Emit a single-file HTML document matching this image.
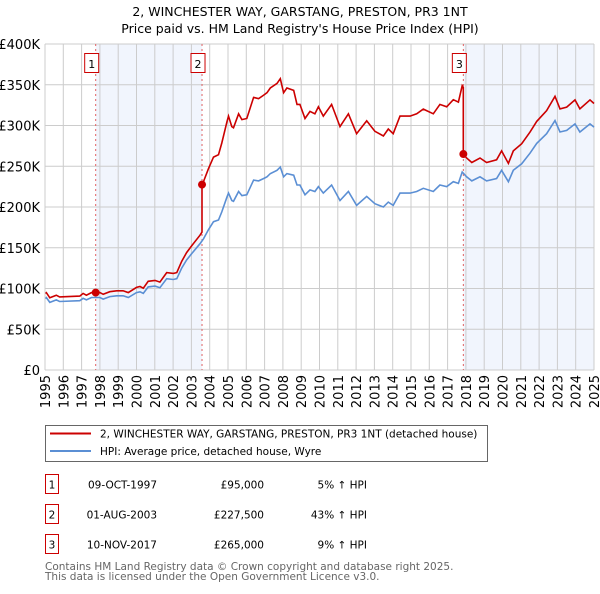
<!DOCTYPE html>
<html><head><meta charset="utf-8"><style>
body{margin:0;background:#fff;font-family:"DejaVu Sans","Liberation Sans",sans-serif;}
svg text{font-family:"DejaVu Sans","Liberation Sans",sans-serif;}
</style></head><body>
<svg id="chart" width="600" height="590" xmlns="http://www.w3.org/2000/svg">
<text x="300" y="16" text-anchor="middle" font-size="12.5">2, WINCHESTER WAY, GARSTANG, PRESTON, PR3 1NT</text>
<text x="300" y="33" text-anchor="middle" font-size="12.5">Price paid vs. HM Land Registry's House Price Index (HPI)</text>
<g id="plot"></g>
<g>
<rect x="45.5" y="425.5" width="442" height="36" fill="#fff" stroke="#666"/>
<line x1="50" y1="433.5" x2="91" y2="433.5" stroke="#cc0000" stroke-width="2"/>
<text x="100" y="437.5" font-size="10.5">2, WINCHESTER WAY, GARSTANG, PRESTON, PR3 1NT (detached house)</text>
<line x1="50" y1="451" x2="91" y2="451" stroke="#5b8fd4" stroke-width="2"/>
<text x="100" y="455" font-size="10.5">HPI: Average price, detached house, Wyre</text>
</g>
<g id="table"></g>
<text x="45" y="570" font-size="10.5" fill="#666">Contains HM Land Registry data © Crown copyright and database right 2025.</text>
<text x="45" y="580" font-size="10.5" fill="#666">This data is licensed under the Open Government Licence v3.0.</text>
</svg>
<script>
const hpiYears=[1995,1995.07,1995.26,1995.62,1995.8,1996.9,1997.08,1997.26,1997.54,1998.0,1998.18,1998.54,1998.91,1999.27,1999.55,2000.0,2000.19,2000.37,2000.64,2001.01,2001.28,2001.65,2002.01,2002.2,2002.47,2002.74,2003.02,2003.47,2003.66,2003.93,2004.21,2004.48,2004.66,2004.94,2005.03,2005.21,2005.3,2005.58,2005.76,2006.03,2006.4,2006.67,2006.95,2007.13,2007.31,2007.68,2007.86,2008.04,2008.22,2008.59,2008.77,2008.93,2009.21,2009.48,2009.75,2009.94,2010.21,2010.66,2011.12,2011.58,2012.03,2012.58,2013.03,2013.49,2013.76,2014.03,2014.4,2014.95,2015.31,2015.67,2016.22,2016.58,2016.95,2017.31,2017.59,2017.8,2018.04,2018.32,2018.77,2019.13,2019.68,2019.95,2020.32,2020.59,2021.05,2021.5,2021.87,2022.41,2022.87,2023.14,2023.51,2023.96,2024.23,2024.78,2025];
const hpiValues=[88,89,83,86,84,85,88,86,89,89,87,90,91,91,89,95,96,94,102,103,101,112,111,112,125,135,143,155,161,172,182,184,194,212,217,208,207,219,214,215,233,232,235,237,241,245,249,237,241,239,227,227,215,221,219,225,217,227,208,219,202,213,204,200,206,202,217,217,219,223,219,227,225,231,229,243,237,232,237,232,235,245,231,245,253,266,278,290,306,292,294,302,292,302,298];
const saleDates=[1997.77,2003.58,2017.86];
const salePrices=[95000,227500,265000];
const saleLabels=["09-OCT-1997","01-AUG-2003","10-NOV-2017"];
const salePriceText=["£95,000","£227,500","£265,000"];
const saleHpiText=["5% ↑ HPI","43% ↑ HPI","9% ↑ HPI"];
const yTicks=[0,50000,100000,150000,200000,250000,300000,350000,400000];
const yTickLabels=["£0","£50K","£100K","£150K","£200K","£250K","£300K","£350K","£400K"];
const xTicks=[1995,1996,1997,1998,1999,2000,2001,2002,2003,2004,2005,2006,2007,2008,2009,2010,2011,2012,2013,2014,2015,2016,2017,2018,2019,2020,2021,2022,2023,2024,2025];

const X0=45,X1=594,Y0=370,Y1=44;
const xs=t=>X0+(t-1995)/30*(X1-X0);
const ys=v=>Y0-v/400000*(Y0-Y1);
const NS="http://www.w3.org/2000/svg";
const plot=document.getElementById('plot');
function mk(tag,attrs,parent){const e=document.createElementNS(NS,tag);for(const k in attrs)e.setAttribute(k,attrs[k]);(parent||plot).appendChild(e);return e;}
function hpiAt(t){for(let i=0;i<hpiYears.length-1;i++){if(t<=hpiYears[i+1]){const f=(t-hpiYears[i])/(hpiYears[i+1]-hpiYears[i]);return (hpiValues[i]+f*(hpiValues[i+1]-hpiValues[i]))*1000;}}return hpiValues[hpiValues.length-1]*1000;}

[[0,1],[2,null]].forEach(([a,b])=>{
const r=mk('rect',{x:xs(saleDates[a]),y:Y1,width:(b===null?X1:xs(saleDates[b]))-xs(saleDates[a]),height:Y0-Y1,fill:'#eef3fc',opacity:0.8});


});
yTicks.forEach((v,i)=>{
const l=mk('line',{x1:X0,x2:X1,y1:ys(v),y2:ys(v),stroke:'#ccc'});


const t=mk('text',{x:40,y:ys(v)+5,'text-anchor':'end','font-size':13});
t.textContent=yTickLabels[i];


});
xTicks.forEach(y=>{
const l=mk('line',{x1:xs(y),x2:xs(y),y1:Y1,y2:Y0,stroke:'#ccc'});


const t=mk('text',{x:0,y:0,'text-anchor':'end','font-size':13,transform:`translate(${xs(y)+5},${Y0+5}) rotate(-90)`});
t.textContent=y;


});
saleDates.forEach((d,i)=>{
const l=mk('line',{x1:xs(d),x2:xs(d),y1:Y1,y2:Y0,stroke:'#e06060','stroke-dasharray':'2,3'});


const r=mk('rect',{x:xs(d)-11,y:53.5,width:14,height:19,fill:'#fff',stroke:'#cc0000'});


const t=mk('text',{x:xs(d)-4,y:68,'text-anchor':'middle','font-size':11});
t.textContent=i+1;


});
let dh='';
hpiYears.forEach((t,i)=>{dh+=(i?'L':'M')+xs(t).toFixed(1)+','+ys(hpiValues[i]*1000).toFixed(1);});
const hl=mk('path',{d:dh,fill:'none',stroke:'#5b8fd4','stroke-width':1.6});


function factorAt(t){let k=0;for(let i=0;i<saleDates.length;i++)if(t>=saleDates[i])k=i;return salePrices[k]/hpiAt(saleDates[k]);}
const pts=[];
hpiYears.forEach((t,i)=>pts.push([t,hpiValues[i]*1000*factorAt(t)]));
saleDates.forEach((d,i)=>{if(i>0)pts.push([d-0.001,hpiAt(d)*factorAt(d-0.01)]);pts.push([d,salePrices[i]]);});
pts.sort((a,b)=>a[0]-b[0]);
let dp='';pts.forEach((p,i)=>{dp+=(i?'L':'M')+xs(p[0]).toFixed(1)+','+ys(p[1]).toFixed(1);});
const pl=mk('path',{d:dp,fill:'none',stroke:'#cc0000','stroke-width':1.6});


saleDates.forEach((d,i)=>{
const c=mk('circle',{cx:xs(d),cy:ys(salePrices[i]),r:4,fill:'#cc0000'});


});
mk('line',{x1:X0,x2:X0,y1:Y1,y2:Y0,stroke:'#ccc'});
const tb=document.getElementById('table');
saleDates.forEach((d,i)=>{
const y=485+i*30;
const r=mk('rect',{x:45.5,y:y-10.5,width:13,height:19,fill:'#fff',stroke:'#cc0000'},tb);


const n=mk('text',{x:52,y:y+3.5,'text-anchor':'middle','font-size':10.5},tb);n.textContent=i+1;


const a=mk('text',{x:157,y:y+3.5,'text-anchor':'end','font-size':10.5},tb);a.textContent=saleLabels[i];


const b=mk('text',{x:264,y:y+3.5,'text-anchor':'end','font-size':10.5},tb);b.textContent=salePriceText[i];


const c=mk('text',{x:367,y:y+3.5,'text-anchor':'end','font-size':10.5},tb);c.textContent=saleHpiText[i];


});
</script>
</body></html>
